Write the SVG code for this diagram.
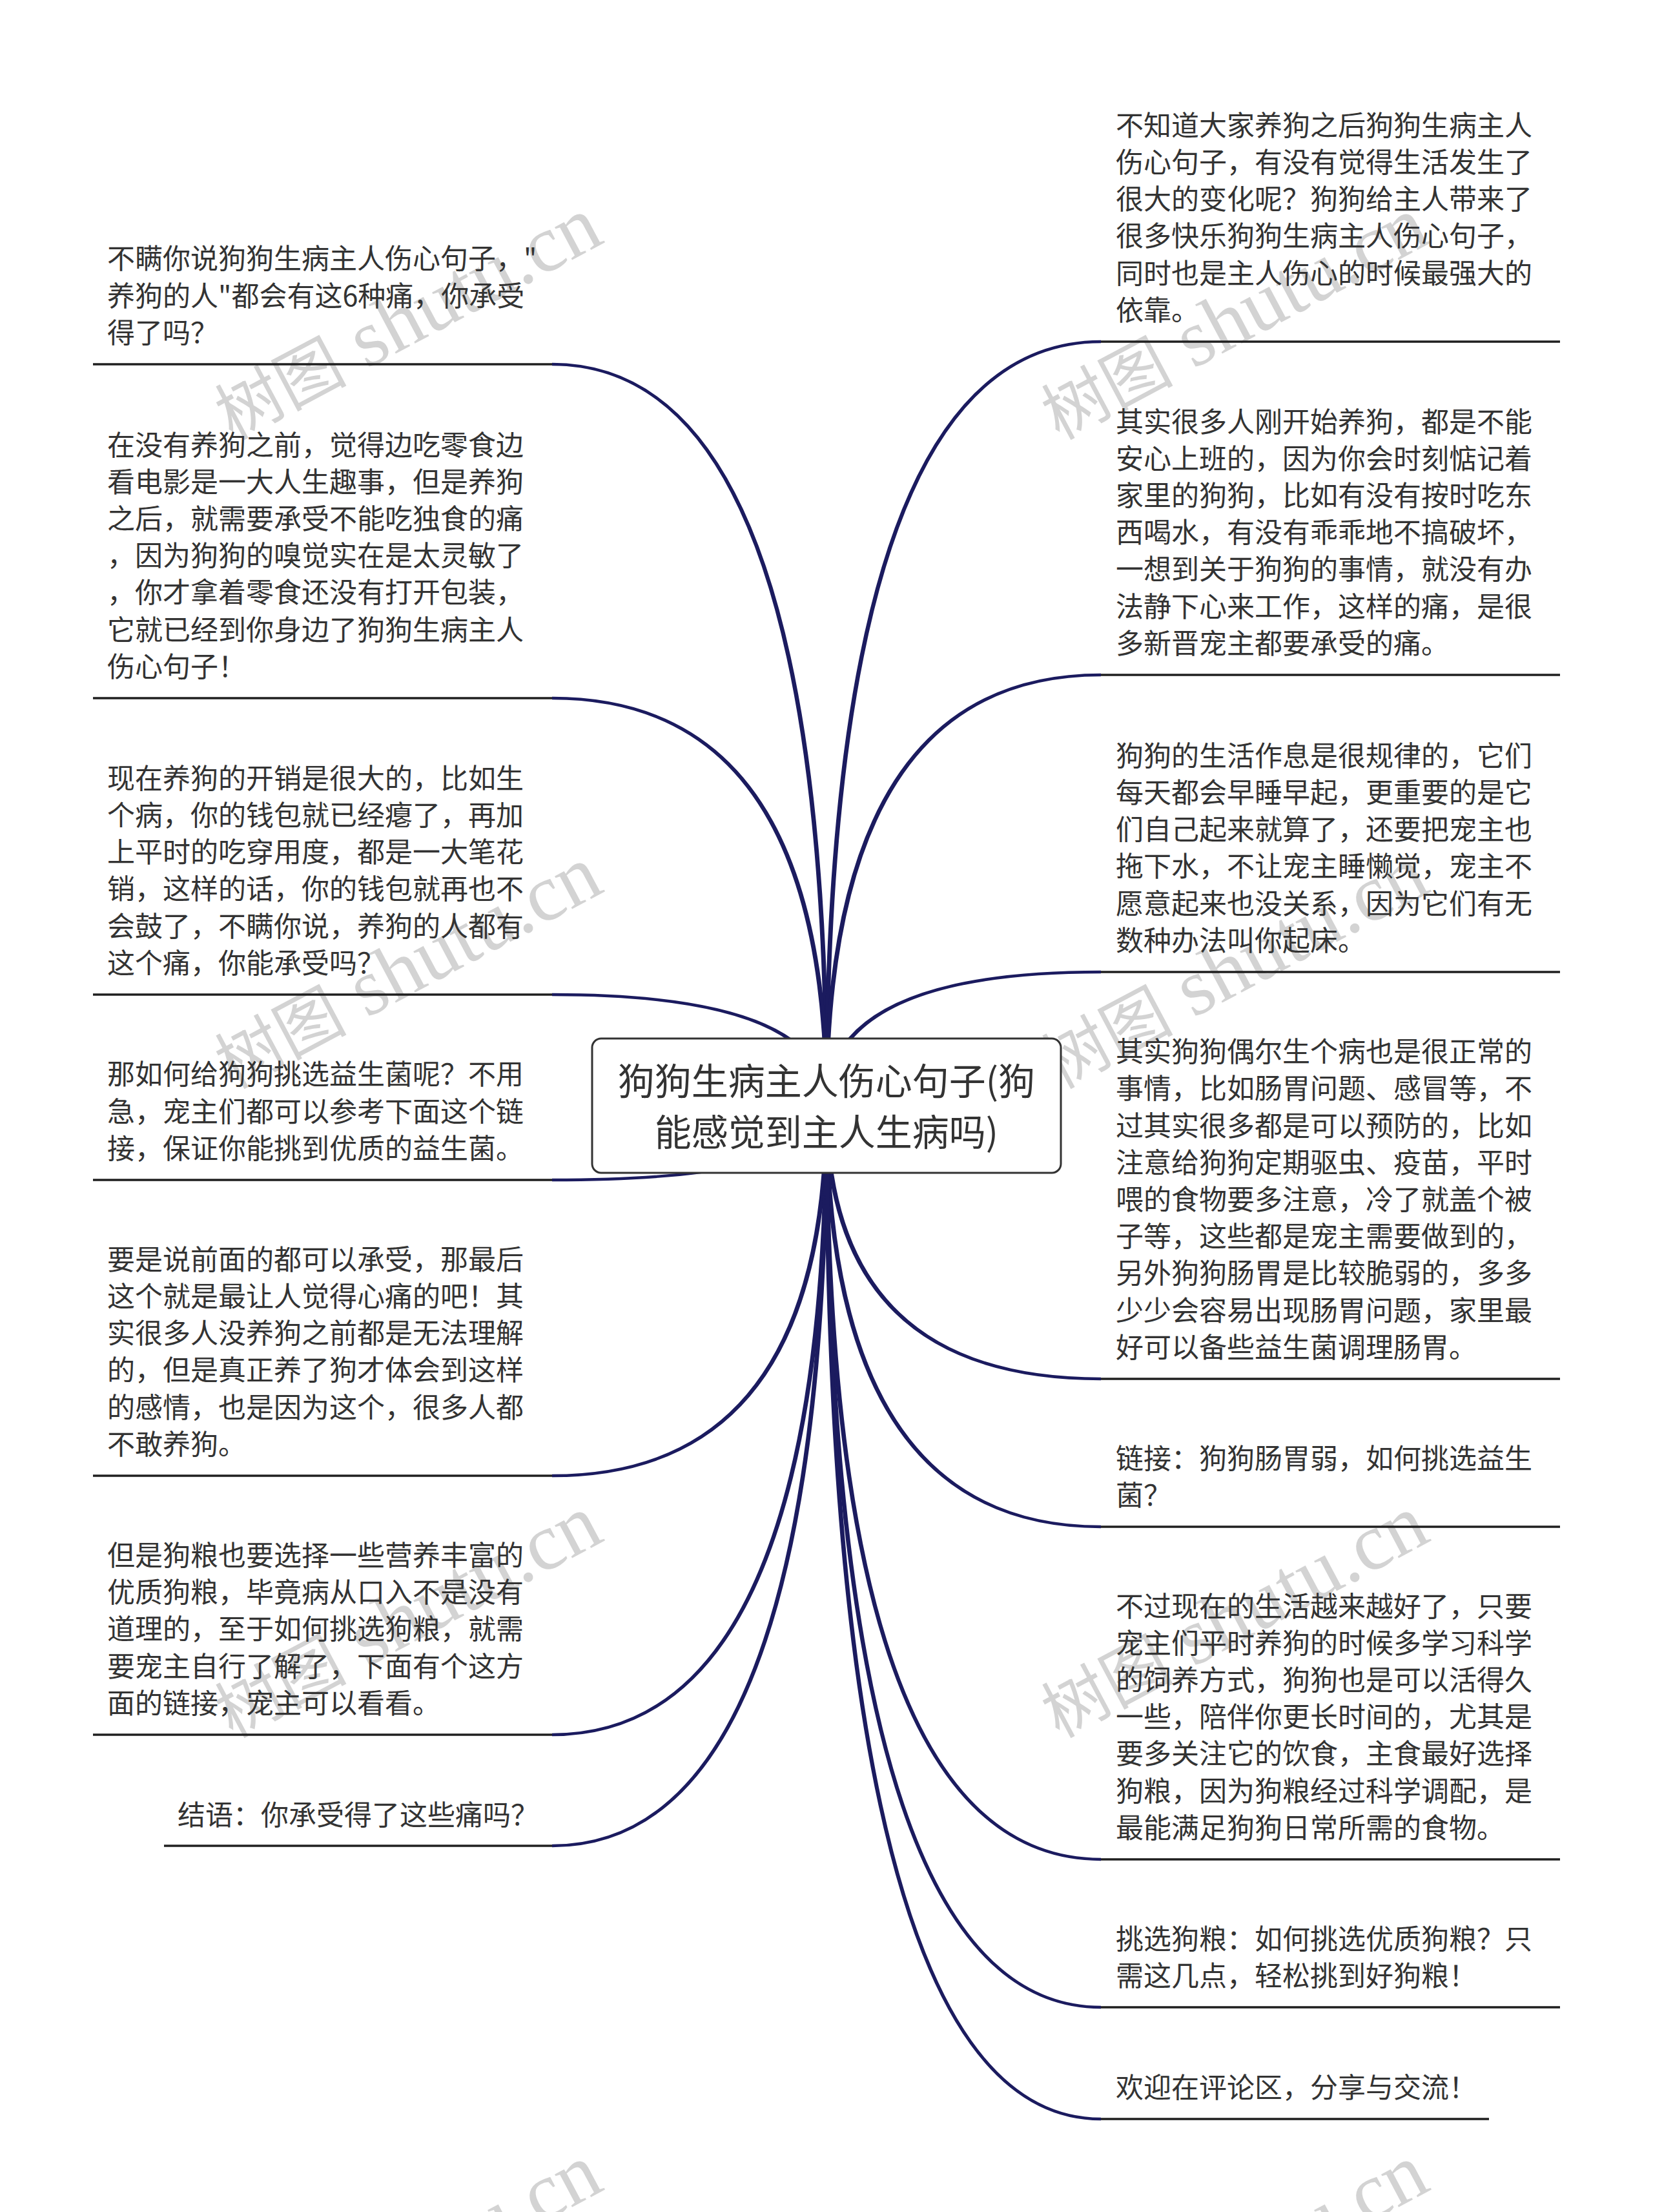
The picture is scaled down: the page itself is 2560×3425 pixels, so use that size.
<svg xmlns="http://www.w3.org/2000/svg" xmlns:xlink="http://www.w3.org/1999/xlink" width="2560" height="3425" viewBox="0 0 2560 3425">
<style>
.t{font-family:"Noto Sans CJK SC","Liberation Sans",sans-serif;font-size:43px;fill:#333}
.c{font-family:"Noto Sans CJK SC","Liberation Sans",sans-serif;font-size:57px;fill:#333;text-anchor:middle}
.u{stroke:#1f1f1f;stroke-width:3.5;fill:none}
.w{font-family:"Liberation Serif","Noto Sans CJK SC",serif;font-size:125px;fill:#d3d3d3}
.wc{font-family:"Noto Sans CJK SC",sans-serif;font-size:102px}
.k{fill:#1b1b5f;stroke:none}
</style>
<defs>
<text id="wm" class="w" x="0" y="0"><tspan class="wc">树图</tspan> shutu.cn</text>
</defs>
<rect width="2560" height="3425" fill="#fff"/>
<g id="watermarks">
<use xlink:href="#wm" transform="translate(360,682) rotate(-28)"/>
<use xlink:href="#wm" transform="translate(1640,682) rotate(-28)"/>
<use xlink:href="#wm" transform="translate(360,1687) rotate(-28)"/>
<use xlink:href="#wm" transform="translate(1640,1687) rotate(-28)"/>
<use xlink:href="#wm" transform="translate(360,2692) rotate(-28)"/>
<use xlink:href="#wm" transform="translate(1640,2692) rotate(-28)"/>
<use xlink:href="#wm" transform="translate(360,3697) rotate(-28)"/>
<use xlink:href="#wm" transform="translate(1640,3697) rotate(-28)"/>
</g>
<g id="connectors" class="k">
<path d="M1283.5,1712 Q1283.5,561.8 855,561.8 L855,566.2 Q1276.5,566.2 1276.5,1712Z"/>
<path d="M1283.5,1712 Q1283.5,1078.8 855,1078.8 L855,1083.2 Q1276.5,1083.2 1276.5,1712Z"/>
<path d="M1283.5,1712 Q1283.5,1537.8 855,1537.8 L855,1542.2 Q1276.5,1542.2 1276.5,1712Z"/>
<path d="M1283.5,1712 Q1283.5,1829.2 855,1829.2 L855,1824.8 Q1276.5,1824.8 1276.5,1712Z"/>
<path d="M1283.5,1712 Q1283.5,2287.2 855,2287.2 L855,2282.8 Q1276.5,2282.8 1276.5,1712Z"/>
<path d="M1283.5,1712 Q1283.5,2688.2 855,2688.2 L855,2683.8 Q1276.5,2683.8 1276.5,1712Z"/>
<path d="M1283.5,1712 Q1283.5,2860.2 855,2860.2 L855,2855.8 Q1276.5,2855.8 1276.5,1712Z"/>
<path d="M1276.5,1712 Q1276.5,526.8 1705,526.8 L1705,531.2 Q1283.5,531.2 1283.5,1712Z"/>
<path d="M1276.5,1712 Q1276.5,1042.8 1705,1042.8 L1705,1047.2 Q1283.5,1047.2 1283.5,1712Z"/>
<path d="M1276.5,1712 Q1276.5,1502.8 1705,1502.8 L1705,1507.2 Q1283.5,1507.2 1283.5,1712Z"/>
<path d="M1276.5,1712 Q1276.5,2137.2 1705,2137.2 L1705,2132.8 Q1283.5,2132.8 1283.5,1712Z"/>
<path d="M1276.5,1712 Q1276.5,2366.2 1705,2366.2 L1705,2361.8 Q1283.5,2361.8 1283.5,1712Z"/>
<path d="M1276.5,1712 Q1276.5,2881.2 1705,2881.2 L1705,2876.8 Q1283.5,2876.8 1283.5,1712Z"/>
<path d="M1276.5,1712 Q1276.5,3110.2 1705,3110.2 L1705,3105.8 Q1283.5,3105.8 1283.5,1712Z"/>
<path d="M1276.5,1712 Q1276.5,3283.2 1705,3283.2 L1705,3278.8 Q1283.5,3278.8 1283.5,1712Z"/>
</g>
<g id="center">
<rect x="917" y="1608" width="726" height="208" rx="14" fill="#fff" stroke="#333" stroke-width="3"/>
<text class="c" x="1280" y="1695">狗狗生病主人伤心句子(狗</text>
<text class="c" x="1280" y="1774">能感觉到主人生病吗)</text>
</g>
<g id="L1">
<text class="t" x="166" y="416.4">不瞒你说狗狗生病主人伤心句子，"</text>
<text class="t" x="166" y="473.6">养狗的人"都会有这6种痛，你承受</text>
<text class="t" x="166" y="530.8">得了吗？</text>
<line class="u" x1="144" y1="564" x2="855" y2="564"/>
</g>
<g id="L2">
<text class="t" x="166" y="704.6">在没有养狗之前，觉得边吃零食边</text>
<text class="t" x="166" y="761.8">看电影是一大人生趣事，但是养狗</text>
<text class="t" x="166" y="819">之后，就需要承受不能吃独食的痛</text>
<text class="t" x="166" y="876.2">，因为狗狗的嗅觉实在是太灵敏了</text>
<text class="t" x="166" y="933.4">，你才拿着零食还没有打开包装，</text>
<text class="t" x="166" y="990.6">它就已经到你身边了狗狗生病主人</text>
<text class="t" x="166" y="1047.8">伤心句子！</text>
<line class="u" x1="144" y1="1081" x2="855" y2="1081"/>
</g>
<g id="L3">
<text class="t" x="166" y="1220.8">现在养狗的开销是很大的，比如生</text>
<text class="t" x="166" y="1278">个病，你的钱包就已经瘪了，再加</text>
<text class="t" x="166" y="1335.2">上平时的吃穿用度，都是一大笔花</text>
<text class="t" x="166" y="1392.4">销，这样的话，你的钱包就再也不</text>
<text class="t" x="166" y="1449.6">会鼓了，不瞒你说，养狗的人都有</text>
<text class="t" x="166" y="1506.8">这个痛，你能承受吗？</text>
<line class="u" x1="144" y1="1540" x2="855" y2="1540"/>
</g>
<g id="L4">
<text class="t" x="166" y="1679.4">那如何给狗狗挑选益生菌呢？不用</text>
<text class="t" x="166" y="1736.6">急，宠主们都可以参考下面这个链</text>
<text class="t" x="166" y="1793.8">接，保证你能挑到优质的益生菌。</text>
<line class="u" x1="144" y1="1827" x2="855" y2="1827"/>
</g>
<g id="L5">
<text class="t" x="166" y="1965.8">要是说前面的都可以承受，那最后</text>
<text class="t" x="166" y="2023">这个就是最让人觉得心痛的吧！其</text>
<text class="t" x="166" y="2080.2">实很多人没养狗之前都是无法理解</text>
<text class="t" x="166" y="2137.4">的，但是真正养了狗才体会到这样</text>
<text class="t" x="166" y="2194.6">的感情，也是因为这个，很多人都</text>
<text class="t" x="166" y="2251.8">不敢养狗。</text>
<line class="u" x1="144" y1="2285" x2="855" y2="2285"/>
</g>
<g id="L6">
<text class="t" x="166" y="2424">但是狗粮也要选择一些营养丰富的</text>
<text class="t" x="166" y="2481.2">优质狗粮，毕竟病从口入不是没有</text>
<text class="t" x="166" y="2538.4">道理的，至于如何挑选狗粮，就需</text>
<text class="t" x="166" y="2595.6">要宠主自行了解了，下面有个这方</text>
<text class="t" x="166" y="2652.8">面的链接，宠主可以看看。</text>
<line class="u" x1="144" y1="2686" x2="855" y2="2686"/>
</g>
<g id="L7">
<text class="t" x="275" y="2826">结语：你承受得了这些痛吗？</text>
<line class="u" x1="254" y1="2858" x2="855" y2="2858"/>
</g>
<g id="R1">
<text class="t" x="1728" y="209.8">不知道大家养狗之后狗狗生病主人</text>
<text class="t" x="1728" y="267">伤心句子，有没有觉得生活发生了</text>
<text class="t" x="1728" y="324.2">很大的变化呢？狗狗给主人带来了</text>
<text class="t" x="1728" y="381.4">很多快乐狗狗生病主人伤心句子，</text>
<text class="t" x="1728" y="438.6">同时也是主人伤心的时候最强大的</text>
<text class="t" x="1728" y="495.8">依靠。</text>
<line class="u" x1="1705" y1="529" x2="2416" y2="529"/>
</g>
<g id="R2">
<text class="t" x="1728" y="668.6">其实很多人刚开始养狗，都是不能</text>
<text class="t" x="1728" y="725.8">安心上班的，因为你会时刻惦记着</text>
<text class="t" x="1728" y="783">家里的狗狗，比如有没有按时吃东</text>
<text class="t" x="1728" y="840.2">西喝水，有没有乖乖地不搞破坏，</text>
<text class="t" x="1728" y="897.4">一想到关于狗狗的事情，就没有办</text>
<text class="t" x="1728" y="954.6">法静下心来工作，这样的痛，是很</text>
<text class="t" x="1728" y="1011.8">多新晋宠主都要承受的痛。</text>
<line class="u" x1="1705" y1="1045" x2="2416" y2="1045"/>
</g>
<g id="R3">
<text class="t" x="1728" y="1185.8">狗狗的生活作息是很规律的，它们</text>
<text class="t" x="1728" y="1243">每天都会早睡早起，更重要的是它</text>
<text class="t" x="1728" y="1300.2">们自己起来就算了，还要把宠主也</text>
<text class="t" x="1728" y="1357.4">拖下水，不让宠主睡懒觉，宠主不</text>
<text class="t" x="1728" y="1414.6">愿意起来也没关系，因为它们有无</text>
<text class="t" x="1728" y="1471.8">数种办法叫你起床。</text>
<line class="u" x1="1705" y1="1505" x2="2416" y2="1505"/>
</g>
<g id="R4">
<text class="t" x="1728" y="1644.2">其实狗狗偶尔生个病也是很正常的</text>
<text class="t" x="1728" y="1701.4">事情，比如肠胃问题、感冒等，不</text>
<text class="t" x="1728" y="1758.6">过其实很多都是可以预防的，比如</text>
<text class="t" x="1728" y="1815.8">注意给狗狗定期驱虫、疫苗，平时</text>
<text class="t" x="1728" y="1873">喂的食物要多注意，冷了就盖个被</text>
<text class="t" x="1728" y="1930.2">子等，这些都是宠主需要做到的，</text>
<text class="t" x="1728" y="1987.4">另外狗狗肠胃是比较脆弱的，多多</text>
<text class="t" x="1728" y="2044.6">少少会容易出现肠胃问题，家里最</text>
<text class="t" x="1728" y="2101.8">好可以备些益生菌调理肠胃。</text>
<line class="u" x1="1705" y1="2135" x2="2416" y2="2135"/>
</g>
<g id="R5">
<text class="t" x="1728" y="2273.6">链接：狗狗肠胃弱，如何挑选益生</text>
<text class="t" x="1728" y="2330.8">菌？</text>
<line class="u" x1="1705" y1="2364" x2="2416" y2="2364"/>
</g>
<g id="R6">
<text class="t" x="1728" y="2502.6">不过现在的生活越来越好了，只要</text>
<text class="t" x="1728" y="2559.8">宠主们平时养狗的时候多学习科学</text>
<text class="t" x="1728" y="2617">的饲养方式，狗狗也是可以活得久</text>
<text class="t" x="1728" y="2674.2">一些，陪伴你更长时间的，尤其是</text>
<text class="t" x="1728" y="2731.4">要多关注它的饮食，主食最好选择</text>
<text class="t" x="1728" y="2788.6">狗粮，因为狗粮经过科学调配，是</text>
<text class="t" x="1728" y="2845.8">最能满足狗狗日常所需的食物。</text>
<line class="u" x1="1705" y1="2879" x2="2416" y2="2879"/>
</g>
<g id="R7">
<text class="t" x="1728" y="3017.6">挑选狗粮：如何挑选优质狗粮？只</text>
<text class="t" x="1728" y="3074.8">需这几点，轻松挑到好狗粮！</text>
<line class="u" x1="1705" y1="3108" x2="2416" y2="3108"/>
</g>
<g id="R8">
<text class="t" x="1728" y="3247.8">欢迎在评论区，分享与交流！</text>
<line class="u" x1="1705" y1="3281" x2="2306" y2="3281"/>
</g>
</svg>
